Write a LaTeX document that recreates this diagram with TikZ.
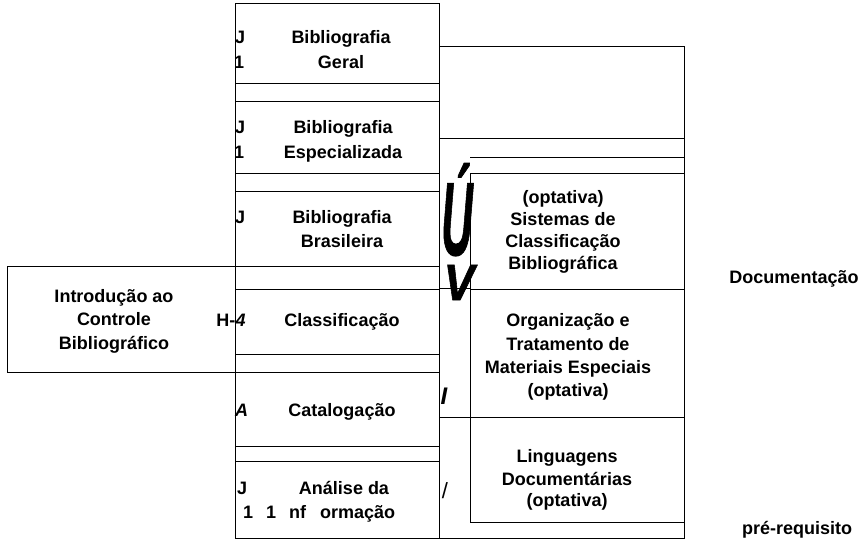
\documentclass[tikz,border=0pt]{standalone}
\usepackage{fontspec}
\setmainfont{Liberation Sans}
\newfontfamily\heavyglyph[FakeBold=1.2]{Liberation Sans Bold Italic}
\usepackage{graphicx}
\usetikzlibrary{fit}
\begin{document}
\begin{tikzpicture}[x=1pt,y=-1pt,
  ln/.style={line width=1pt},
  box/.style={draw, line width=1pt, inner sep=0pt},
  lbl/.style={font=\fontsize{18}{23}\selectfont\bfseries, align=center, inner sep=0pt},
  tag/.style={font=\fontsize{18}{23}\selectfont\bfseries, inner sep=0pt, anchor=base west},
  one/.style={font=\fontsize{18}{23}\selectfont\bfseries, inner sep=0pt, anchor=base}
]
\useasboundingbox (0,0) rectangle (866,543);

% main column
\node[box, fit={(235,4)(439,538)}] (col) {};
\node[box, fit={(235,4)(439,83)}] (geral) {};
\node[box, fit={(235,101)(439,173)}] (espec) {};
\node[box, fit={(235,191)(439,266)}] (bras) {};
\node[box, fit={(235,289)(439,354)}] (classif) {};
\node[box, fit={(235,372)(439,446)}] (catal) {};
\node[box, fit={(235,461)(439,538)}] (analise) {};

% left box
\node[box, fit={(7,266)(235,372)}] (intro) {};

% right column
\node[box, fit={(470,173)(684,289)}] (sist) {};
\node[box, fit={(470,289)(684,417)}] (org) {};
\node[box, fit={(470,417)(684,522)}] (ling) {};

% connectors
\coordinate (rtop) at (684,47);
\draw[ln] (geral.east |- rtop) -- (rtop) |- (analise.south east);
\coordinate (r138) at (684,138);
\draw[ln] (espec.east |- r138) -- (r138);
\coordinate (s157) at (470,157);
\draw[ln] (s157) -- (s157 -| rtop);
\draw[ln] (classif.north east) -- (org.north west);
\draw[ln] (catal.east |- org.south west) -- (org.south west);

% texts in main column
\node[lbl] (tgeral) at (341,49.5) {Bibliografia\\[2pt]Geral};
\node[lbl] (tespec) at (343,141) {Bibliografia\\[2pt]Especializada};
\node[lbl] (tbras) at (342,229) {Bibliografia\\[1pt]Brasileira};
\node[one] (tclassif) at (342,326.5) {Classificação};
\node[one] (tcatal) at (342,416.5) {Catalogação};
\node[one] (tanal) at (344,494.5) {Análise da};
\node[tag] (tanal2) at (243,518.5) {1\hspace{13pt}1\hspace{13pt}nf\hspace{14pt}ormação};

\node[tag] (j1) at (235,43.5) {J};
\node[tag] (n1) at (234,68.5) {1};
\node[tag] (j2) at (235,133.5) {J};
\node[tag] (n2) at (234,158.5) {1};
\node[tag] (j3) at (235,223.5) {J};
\node[tag] (j4) at (237,494.5) {J};
\node[tag, font=\fontsize{18}{23}\selectfont\bfseries\itshape] (a1) at (235,416.5) {A};
\node[one, anchor=base east] (h1) at (235.5,326.5) {H-};
\node[tag, font=\fontsize{18}{23}\selectfont\bfseries\itshape] (f1) at (235.5,326.5) {4};

% left box text
\node[lbl] (tintro) at (114,321) {Introdução ao\\[0.5pt]Controle\\[0.5pt]Bibliográfico};

% right column texts
\node[lbl] (tsist) at (563,232) {(optativa)\\[-1pt]Sistemas de\\[-1pt]Classificação\\[-1pt]Bibliográfica};
\node[lbl] (torg) at (568,357) {Organização e\\[0.3pt]Tratamento de\\[0.3pt]Materiais Especiais\\[0.3pt](optativa)};
\node[lbl] (tling) at (567,479.5) {Linguagens\\[0pt]Documentárias\\[-2pt](optativa)};

% big glyphs
\node[inner sep=0pt, anchor=base, font=\fontsize{104}{104}\heavyglyph] (gU) at (457,255) {\scalebox{0.42}[1]{Ú}};
\node[inner sep=0pt, anchor=base, font=\fontsize{51}{51}\heavyglyph] (gV) at (459,300) {\scalebox{0.9}[1]{V}};
\node[inner sep=0pt, anchor=base, font=\fontsize{24}{24}\selectfont\bfseries\itshape] (gI) at (444,404) {I};
\node[inner sep=0pt, anchor=base, font=\fontsize{22}{22}\selectfont] (gS) at (445,498) {/};

% outside labels
\node[one] (tdoc) at (794,283) {Documentação};
\node[one] (tpre) at (797,534) {pré-requisito};
\end{tikzpicture}
\end{document}
